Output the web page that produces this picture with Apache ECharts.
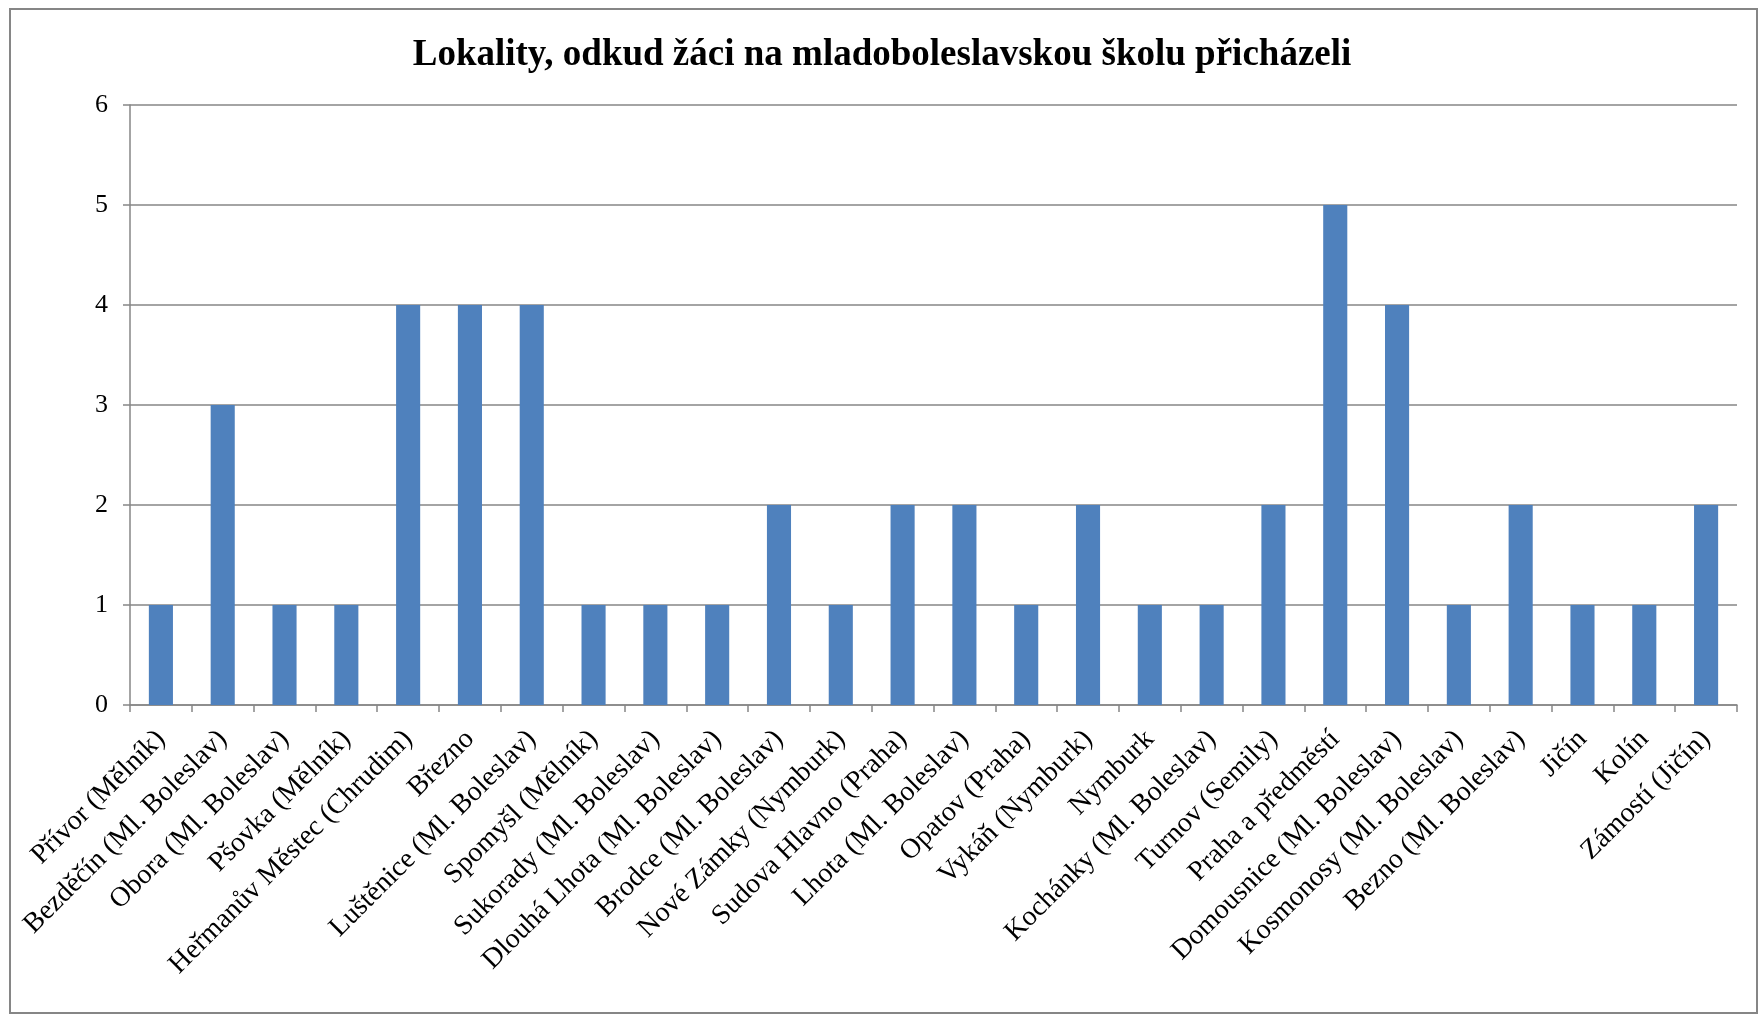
<!DOCTYPE html>
<html>
<head>
<meta charset="utf-8">
<script src="https://cdn.jsdelivr.net/npm/echarts@6/dist/echarts.min.js"></script>
<style>
html,body{margin:0;padding:0;background:#fff;}
#chart{width:1764px;height:1016px;}
</style>
</head>
<body>
<div id="chart"></div>
<script>
const titleText = "Lokality, odkud žáci na mladoboleslavskou školu přicházeli";
const categories = [
  "Přívor (Mělník)",
  "Bezděčín (Ml. Boleslav)",
  "Obora (Ml. Boleslav)",
  "Pšovka (Mělník)",
  "Heřmanův Městec (Chrudim)",
  "Březno",
  "Luštěnice (Ml. Boleslav)",
  "Spomyšl (Mělník)",
  "Sukorady (Ml. Boleslav)",
  "Dlouhá Lhota (Ml. Boleslav)",
  "Brodce (Ml. Boleslav)",
  "Nové Zámky (Nymburk)",
  "Sudova Hlavno (Praha)",
  "Lhota (Ml. Boleslav)",
  "Opatov (Praha)",
  "Vykáň (Nymburk)",
  "Nymburk",
  "Kochánky (Ml. Boleslav)",
  "Turnov (Semily)",
  "Praha a předměstí",
  "Domousnice (Ml. Boleslav)",
  "Kosmonosy (Ml. Boleslav)",
  "Bezno (Ml. Boleslav)",
  "Jičín",
  "Kolín",
  "Zámostí (Jičín)"
];
const values = [1,3,1,1,4,4,4,1,1,1,2,1,2,2,1,2,1,1,2,5,4,1,2,1,1,2];
const yMin = 0, yMax = 6, yStep = 1;

const chart = echarts.init(document.getElementById('chart'), null, {renderer:'canvas'});
const gray = '#868686';
const font = '"Liberation Serif", "Times New Roman", serif';
chart.setOption({
  animation: false,
  backgroundColor: '#fff',
  title: {
    text: titleText,
    left: 'center',
    top: 32,
    textStyle: {fontFamily: font, fontWeight: 'bold', fontSize: 37, color: '#000'}
  },
  graphic: [{
    type: 'rect',
    shape: {x: 10, y: 9, width: 1747, height: 1004},
    style: {fill: 'none', stroke: gray, lineWidth: 2},
    silent: true, z: -1
  }],
  grid: {left: 130, right: 27, top: 105, bottom: 311, containLabel: false},
  xAxis: {
    type: 'category',
    data: categories,
    boundaryGap: true,
    axisLine: {show: true, lineStyle: {color: gray, width: 1.5}},
    axisTick: {show: true, length: 7, alignWithLabel: false, lineStyle: {color: gray, width: 1.5}},
    axisLabel: {interval: 0, rotate: 45, margin: 30, fontFamily: font, fontSize: 28, color: '#000'},
    splitLine: {show: false}
  },
  yAxis: {
    type: 'value',
    min: yMin, max: yMax, interval: yStep,
    axisLine: {show: true, lineStyle: {color: gray, width: 1.5}},
    axisTick: {show: true, length: 7, lineStyle: {color: gray, width: 1.5}},
    axisLabel: {margin: 22, fontFamily: font, fontSize: 26, color: '#000'},
    splitLine: {show: true, lineStyle: {color: gray, width: 1.5}}
  },
  series: [{
    type: 'bar',
    data: values,
    barWidth: '39%',
    itemStyle: {color: '#4F81BD'}
  }]
});
</script>
</body>
</html>
